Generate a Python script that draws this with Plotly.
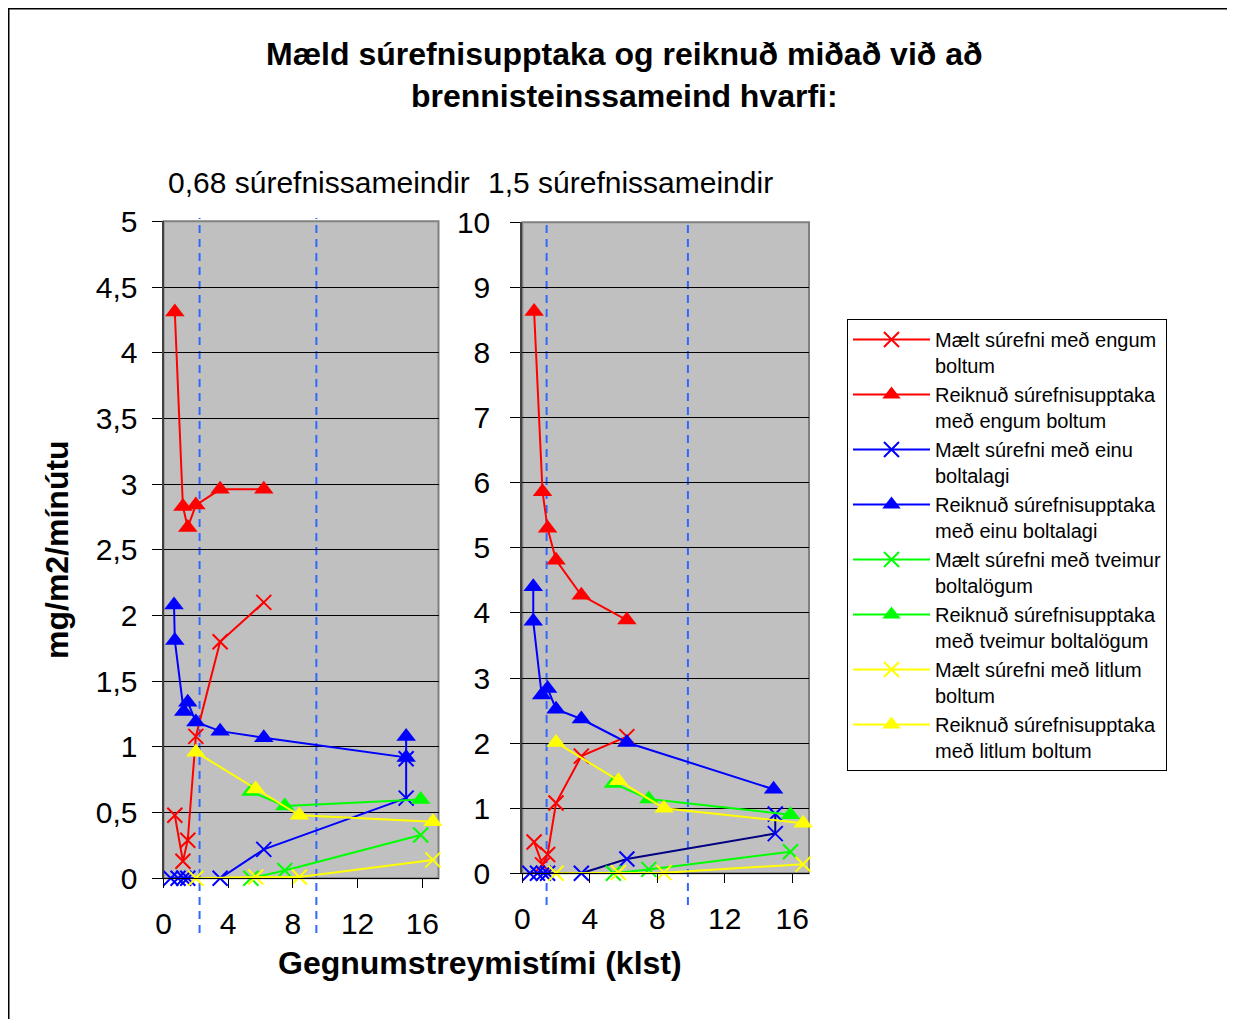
import plotly.graph_objects as go

# ---------------- data ----------------
# measured (same in both panels)
t_red = [0.7, 1.2, 1.5, 2.0, 3.5, 6.2]
meas_red = [0.48, 0.13, 0.29, 1.08, 1.80, 2.10]

t_blue_meas = [0.45, 0.9, 1.25, 1.5, 3.5, 6.2, 15.0, 15.0]
meas_blue = [0.0, 0.0, 0.0, 0.0, 0.0, 0.22, 0.61, 0.91]

t_green = [5.4, 7.5, 15.9]
meas_green = [0.0, 0.06, 0.33]

t_yellow = [2.0, 5.7, 8.4, 16.65]
meas_yellow = [0.0, 0.01, 0.01, 0.14]

# calculated, 0.68 oxygen molecules (left panel)
calc_red_068 = [4.31, 2.83, 2.67, 2.84, 2.96, 2.96]
t_blue_calc_068 = [0.65, 0.7, 1.25, 1.5, 2.0, 3.5, 6.2, 15.0, 15.0]
calc_blue_068 = [2.08, 1.81, 1.27, 1.34, 1.19, 1.12, 1.07, 0.92, 1.08]
calc_green_068 = [0.66, 0.55, 0.60]
calc_yellow_068 = [0.96, 0.68, 0.48, 0.43]

# calculated, 1.5 oxygen molecules (right panel)
calc_red_15 = [8.63, 5.86, 5.30, 4.81, 4.27, 3.89]
t_blue_calc_15 = [0.65, 0.65, 1.15, 1.5, 2.0, 3.5, 6.2, 14.9]
calc_blue_15 = [4.40, 3.87, 2.74, 2.84, 2.52, 2.37, 2.01, 1.29]
calc_green_15 = [1.38, 1.14, 0.90]
calc_yellow_15 = [2.01, 1.42, 1.00, 0.77]

# reference (dashed) times
dash_068 = [2.23, 9.45]
dash_15 = [1.44, 9.82]

names = [
    "Mælt súrefni með engum<br>boltum",
    "Reiknuð súrefnisupptaka<br>með engum boltum",
    "Mælt súrefni með einu<br>boltalagi",
    "Reiknuð súrefnisupptaka<br>með einu boltalagi",
    "Mælt súrefni með tveimur<br>boltalögum",
    "Reiknuð súrefnisupptaka<br>með tveimur boltalögum",
    "Mælt súrefni með litlum<br>boltum",
    "Reiknuð súrefnisupptaka<br>með litlum boltum",
]

x_ticks = [0, 4, 8, 12, 16]
y_ticks_left = [0, 0.5, 1, 1.5, 2, 2.5, 3, 3.5, 4, 4.5, 5]
y_ticktext_left = ["0", "0,5", "1", "1,5", "2", "2,5", "3", "3,5", "4", "4,5", "5"]
y_ticks_right = list(range(0, 11))

# ---------------- layout helpers ----------------
W, H, OFF = 1219, 1011, 8
FONT = "Liberation Sans, Arial, sans-serif"


def px(x):
    return (x - OFF) / W


def py(y):
    return 1 - (y - OFF) / H


RED, BLUE, GREEN, YELLOW, NAVY = "#FF0000", "#0000FF", "#00FF00", "#FFFF00", "#000080"

fig = go.Figure()


def add_panel(xa, ya, calc_red, t_bc, calc_blue, calc_green, calc_yellow, show, blue_meas_line):
    series = [
        (t_red, meas_red, RED, RED, "x-thin"),
        (t_red, calc_red, RED, RED, "triangle-up"),
        (t_blue_meas, meas_blue, blue_meas_line, BLUE, "x-thin"),
        (t_bc, calc_blue, BLUE, BLUE, "triangle-up"),
        (t_green, meas_green, GREEN, GREEN, "x-thin"),
        (t_green, calc_green, GREEN, GREEN, "triangle-up"),
        (t_yellow, meas_yellow, YELLOW, YELLOW, "x-thin"),
        (t_yellow, calc_yellow, YELLOW, YELLOW, "triangle-up"),
    ]
    for i, (x, y, lc, mc, sym) in enumerate(series):
        if sym == "x-thin":
            marker = dict(symbol="x-thin", size=15, line=dict(color=mc, width=2), color=mc)
        else:
            marker = dict(symbol="triangle-up", size=17, color=mc, line=dict(width=0))
        fig.add_trace(go.Scatter(
            x=x, y=y, mode="lines+markers", name=names[i],
            line=dict(color=lc, width=2), marker=marker,
            xaxis=xa, yaxis=ya, showlegend=show, cliponaxis=False,
        ))


add_panel("x", "y", calc_red_068, t_blue_calc_068, calc_blue_068, calc_green_068,
          calc_yellow_068, True, BLUE)
add_panel("x2", "y2", calc_red_15, t_blue_calc_15, calc_blue_15, calc_green_15,
          calc_yellow_15, False, NAVY)

tickfont = dict(family=FONT, size=30, color="black")
xcommon = dict(range=[0, 17], tickvals=x_ticks, ticktext=[str(v) for v in x_ticks],
               ticks="outside", ticklen=9, tickwidth=1, tickcolor="black",
               showgrid=False, zeroline=False, showline=True, linecolor="black",
               linewidth=1, tickfont=tickfont, ticklabelstandoff=10, fixedrange=True,
               automargin=False)
ycommon = dict(ticks="outside", ticklen=10, tickwidth=1, tickcolor="black",
               showgrid=True, gridcolor="black", gridwidth=1, zeroline=False,
               showline=True, linecolor="#404040", linewidth=2, tickfont=tickfont,
               fixedrange=True, automargin=False)

fig.update_layout(
    width=W, height=H,
    margin=dict(l=0, r=0, t=0, b=0, pad=0, autoexpand=False),
    paper_bgcolor="white",
    plot_bgcolor="#C0C0C0",
    font=dict(family=FONT, color="black"),
    xaxis=dict(domain=[px(163.5), px(438.5)], anchor="y", **xcommon),
    yaxis=dict(domain=[py(878.3), py(221.3)], anchor="x", range=[0, 5],
               tickvals=y_ticks_left, ticktext=y_ticktext_left,
               ticklabelstandoff=8, **ycommon),
    xaxis2=dict(domain=[px(522.3), px(809)], anchor="y2", **xcommon),
    yaxis2=dict(domain=[py(873.3), py(222.3)], anchor="x2", range=[0, 10],
                tickvals=y_ticks_right, ticktext=[str(v) for v in y_ticks_right],
                ticklabelstandoff=14, **ycommon),
    legend=dict(
        x=px(847), y=py(319), xanchor="left", yanchor="top",
        bgcolor="white", bordercolor="black", borderwidth=1,
        font=dict(family=FONT, size=20, color="black"),
        valign="top", tracegroupgap=0, itemwidth=77,
    ),
)

shapes = []
# plot area borders (gray)
for xr, yr in (("x domain", "y domain"), ("x2 domain", "y2 domain")):
    shapes.append(dict(type="rect", xref=xr, yref=yr, x0=0, x1=1, y0=0, y1=1,
                       line=dict(color="#808080", width=2), layer="below"))
# dashed reference lines
for v in dash_068:
    shapes.append(dict(type="line", xref="x", yref="paper", x0=v, x1=v,
                       y0=py(933), y1=py(218),
                       line=dict(color="#3366FF", width=2, dash="8px,6px"), layer="between"))
for v in dash_15:
    shapes.append(dict(type="line", xref="x2", yref="paper", x0=v, x1=v,
                       y0=py(905), y1=py(220),
                       line=dict(color="#3366FF", width=2, dash="8px,6px"), layer="between"))
# outer frame (left + top edges)
shapes.append(dict(type="line", xref="paper", yref="paper", x0=0, x1=0, y0=0, y1=1,
                   line=dict(color="black", width=3)))
shapes.append(dict(type="line", xref="paper", yref="paper", x0=0, x1=1, y0=1, y1=1,
                   line=dict(color="black", width=3)))
fig.update_layout(shapes=shapes)

annotations = [
    dict(text="<b>Mæld súrefnisupptaka og reiknuð miðað við að<br>brennisteinssameind hvarfi:</b>",
         x=px(624), y=py(75), xref="paper", yref="paper", showarrow=False,
         font=dict(family=FONT, size=32, color="black"), xanchor="center", yanchor="middle"),
    dict(text="0,68 súrefnissameindir", x=px(319), y=py(183), xref="paper", yref="paper",
         showarrow=False, font=dict(family=FONT, size=30, color="black"),
         xanchor="center", yanchor="middle"),
    dict(text="1,5 súrefnissameindir", x=px(630), y=py(183), xref="paper", yref="paper",
         showarrow=False, font=dict(family=FONT, size=30, color="black"),
         xanchor="center", yanchor="middle"),
    dict(text="<b>Gegnumstreymistími (klst)</b>", x=px(480), y=py(963), xref="paper",
         yref="paper", showarrow=False, font=dict(family=FONT, size=32, color="black"),
         xanchor="center", yanchor="middle"),
    dict(text="<b>mg/m2/mínútu</b>", x=px(57), y=py(550), xref="paper", yref="paper",
         showarrow=False, textangle=-90, font=dict(family=FONT, size=32, color="black"),
         xanchor="center", yanchor="middle"),
]
fig.update_layout(annotations=annotations)

fig.write_html("out.html")
